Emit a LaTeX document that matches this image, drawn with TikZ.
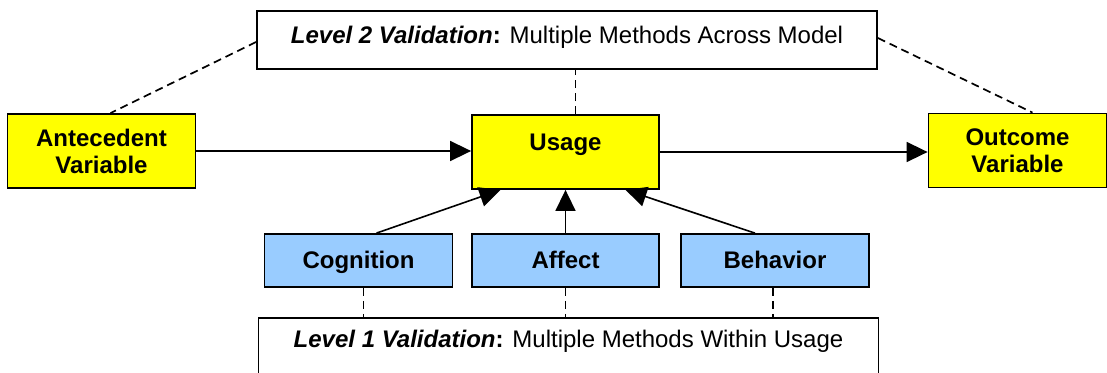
\documentclass[tikz,border=0pt]{standalone}
\usepackage{fontspec}
\setmainfont{Liberation Sans}
\usetikzlibrary{arrows.meta, positioning}

\definecolor{varyellow}{HTML}{FFFF00}
\definecolor{dimblue}{HTML}{99CCFF}

\begin{document}
\begin{tikzpicture}[
    x=1pt, y=-1pt,
    var/.style={rectangle, draw=black, fill=varyellow, line width=1.8pt,
                inner sep=0pt, minimum width=188pt, minimum height=74pt,
                align=center, font=\fontsize{24}{27}\selectfont\bfseries},
    dim/.style={var, fill=dimblue, minimum height=53pt,
                text height=34pt, text depth=19pt},
    level/.style={rectangle, draw=black, fill=white, line width=1.8pt,
                  inner sep=0pt, minimum width=620pt,
                  font=\fontsize{24}{27}\selectfont},
    arr/.style={-{Triangle[length=21pt, width=20pt]}, line width=1.6pt},
    link/.style={dash pattern=on 8pt off 5pt, line width=1.7pt}
  ]
  \useasboundingbox (0,0) rectangle (1107,372);

  % validation levels
  \node[level, text height=32pt, text depth=26pt] (lvtwo) at (567,40)
    {\textbf{\textit{Level 2 Validation}:} Multiple Methods Across Model};
  \node[level, anchor=north, text height=30pt, text depth=33pt] (lvone) at (568.5,317)
    {\textbf{\textit{Level 1 Validation}:} Multiple Methods Within Usage};

  % model variables
  \node[var] (ante) at (101.5,151) {Antecedent\\Variable};
  \node[var, minimum width=187pt, text height=35pt, text depth=38pt] (usage) at (565.5,152) {Usage};
  \node[var, minimum width=178pt] (outc) at (1017.5,150.5) {Outcome\\Variable};

  % usage dimensions
  \node[dim] (cogn) at (358.5,260.5) {Cognition};
  \node[dim, minimum width=187pt] (affe) at (565.5,260.5) {Affect};
  \node[dim] (beha) at (775,260.5) {Behavior};

  % causal arrows
  \draw[arr] (ante.east) -- (ante.east -| usage.west);
  \draw[arr] (usage.east) -- (usage.east -| outc.west);
  \draw[arr] ([xshift=18pt]cogn.north) -- ([xshift=-65pt]usage.south);
  \draw[arr] (affe.north) -- (usage.south);
  \draw[arr] ([xshift=-20pt]beha.north) -- ([xshift=60pt]usage.south);

  % validation links
  \draw[link] ([yshift=-2pt]lvtwo.west) -- ([xshift=9pt]ante.north);
  \draw[link] ([yshift=2pt]lvtwo.east) -- ([xshift=15pt]outc.north);
  \draw[link] ([xshift=10pt]usage.north) -- ([xshift=10pt]usage.north |- lvtwo.south);
  \draw[link] ([xshift=5pt]cogn.south) -- ([xshift=5pt]cogn.south |- lvone.north);
  \draw[link] (affe.south) -- (affe.south |- lvone.north);
  \draw[link] ([xshift=-2pt]beha.south) -- ([xshift=-2pt]beha.south |- lvone.north);
\end{tikzpicture}
\end{document}
